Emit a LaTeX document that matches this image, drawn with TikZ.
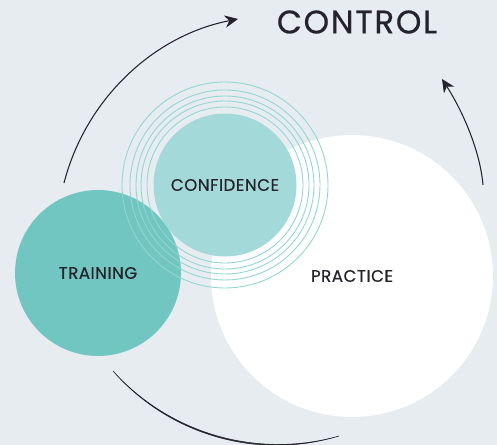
\documentclass[tikz,border=0pt]{standalone}
\usepackage{fontspec}
\setmainfont{Poppins}
\newfontfamily\lblfont{Poppins}[FakeBold=0.5,LetterSpace=3]
\newfontfamily\ttlfont{Poppins}[FakeBold=0.5,LetterSpace=5]
\usepackage{xcolor}
\usepackage{tikz}
\usetikzlibrary{arrows.meta,positioning}
\definecolor{bgc}{HTML}{E7ECF0}
\definecolor{trc}{HTML}{71C6C2}
\definecolor{cfc}{HTML}{A4D9D9}
\definecolor{rgc}{HTML}{93D5D3}
\definecolor{ink}{HTML}{25222B}

\begin{document}
\begin{tikzpicture}[x=0.02cm,y=-0.02cm,
  disc/.style={circle,inner sep=0pt,text=ink,font=\lblfont\fontsize{9.5}{11}\selectfont},
  ring/.style={rgc,line width=0.5pt},
  sweep/.style={ink,line width=0.6pt}]
\fill[bgc] (0,0) rectangle (497,445);
\useasboundingbox (0,0) rectangle (497,445);
%circles
\node[disc,fill=white,minimum size=5.64cm] (P) at (352,276) {PRACTICE};
\node[disc,fill=trc,minimum size=3.32cm] (T) at (98,273) {TRAINING};
\node[disc,fill=cfc,minimum size=2.86cm] (C) at (225,185) {CONFIDENCE};
\foreach \r in {78,84,89,95,103}
  \draw[ring] (C.center) circle[radius=\r];
\node[text=ink,font=\ttlfont\fontsize{18.5}{22}\selectfont] (K) at (357,22) {CONTROL};
%arrows
\coordinate (a0) at (64,183);  \coordinate (a1) at (238,19);
\coordinate (b0) at (483,185); \coordinate (b1) at (442,79);
\coordinate (c0) at (113,371); \coordinate (c1) at (339,436);
\draw[sweep,-{Stealth[length=7.5pt,width=7pt]}] (a0) .. controls (85.5,99.4) and (153.3,35.5) .. (a1);
\draw[sweep,-{Stealth[length=7.5pt,width=7pt]}] (b0) .. controls (480,150) and (462,110) .. (b1);
\draw[sweep,line width=0.3pt,fill=ink] (c0) .. controls (169.8,434) and (257.6,459.1) .. (c1)
  .. controls (258,460.6) and (169.3,435.4) .. (c0) -- cycle;
\end{tikzpicture}
\end{document}
